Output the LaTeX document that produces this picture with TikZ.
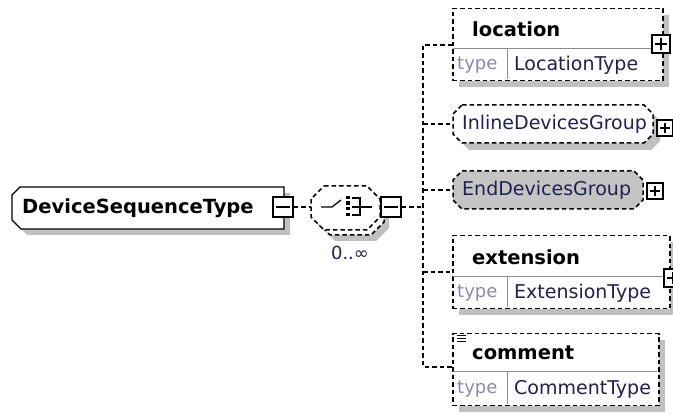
\documentclass[tikz,border=0pt]{standalone}
\usepackage{fontspec}
\setmainfont{DejaVu Sans}
\definecolor{shd}{HTML}{C0C0C0}
\definecolor{navy}{HTML}{202050}
\definecolor{tgray}{HTML}{8A8AA8}
\definecolor{grpfill}{HTML}{C4C4C4}
\definecolor{divg}{HTML}{8C8C8C}
% octagon path: x1 y1 x2 y2 chamfer
\newcommand\octpath[5]{({#1+#5},#2) -- ({#3-#5},#2) -- (#3,{#2+#5}) -- (#3,{#4-#5}) -- ({#3-#5},#4) -- ({#1+#5},#4) -- (#1,{#4-#5}) -- (#1,{#2+#5}) -- cycle}
\tikzset{
  dsh/.style={dash pattern=on 4.5pt off 3pt, line width=1.5pt},
  conn/.style={dsh, draw=black},
  shadowfill/.style={fill=shd, draw=none},
  anch/.style={rectangle, inner sep=0pt, anchor=north west},
  elbox/.style={rectangle, draw, dsh, fill=white, inner sep=0pt, anchor=north west},
  pmbox/.style={rectangle, draw, solid, line width=1.3pt, fill=white, minimum size=#1, inner sep=0pt},
  minusbox/.style={pmbox=#1, path picture={
      \draw[line width=1.3pt] ([xshift=3pt]path picture bounding box.west) -- ([xshift=-3pt]path picture bounding box.east);}},
  plusbox/.style={pmbox=#1, path picture={
      \draw[line width=1.3pt] ([xshift=3pt]path picture bounding box.west) -- ([xshift=-3pt]path picture bounding box.east);
      \draw[line width=1.3pt] ([yshift=-3pt]path picture bounding box.north) -- ([yshift=3pt]path picture bounding box.south);}},
  ttl/.style={font=\fontsize{19.5}{22}\selectfont\bfseries, text=black, anchor=west, inner sep=0pt},
  nm/.style={font=\fontsize{19}{22}\selectfont, text=navy, anchor=west, inner sep=0pt},
  tlab/.style={font=\fontsize{18}{22}\selectfont, text=tgray, anchor=west, inner sep=0pt},
  divl/.style={draw=divg, line width=1pt, solid},
}
\begin{document}
\begin{tikzpicture}[x=1pt,y=-1pt]
\clip (0,0) rectangle (673,414);
\fill[white] (0,0) rectangle (673,414);

% complex type
\fill[shadowfill] (26,193) -- (290,193) -- (290,235) -- (27,235) -- (18,226) -- (18,201) -- cycle;
\draw[line width=1.3pt, fill=white] (20,187) -- (284,187) -- (284,229) -- (21,229) -- (12,220) -- (12,195) -- cycle;
\node[anch, minimum width=272pt, minimum height=42pt] (dst) at (12,187) {};
\node[ttl] (dstl) at (22,208) {DeviceSequenceType};
\node[minusbox=20pt] (dstm) at (283,207) {};

% sequence compositor (stacked for multiple occurrences)
\fill[shadowfill] \octpath{322}{197}{389}{241}{13};
\draw[dsh, fill=white] \octpath{317}{191}{384}{235}{13};
\draw[dsh, fill=white] \octpath{311}{186}{380}{230}{13};
\node[anch, minimum width=69pt, minimum height=44pt] (seq) at (311,186) {};
\draw[line width=1.3pt] (321,207) -- (332,207) -- (341,200);
\fill (346,196) rectangle (349.5,199.5);
\fill (346,201.5) rectangle (349.5,205);
\fill (346,207) rectangle (349.5,210.5);
\fill (346,213) rectangle (349.5,216.5);
\draw[line width=1.3pt] (352,198) -- (360,198) -- (360,215) -- (352,215);
\draw[line width=1.3pt] (352,207) -- (372,207);
\node[minusbox=20pt] (seqm) at (391,207) {};
\node[font=\fontsize{18}{22}\selectfont, text=navy, inner sep=0pt] (occ) at (350,253) {0..∞};

\draw[conn] (dstm.east) -- (dstm.east -| seq.west);

% location
\fill[shadowfill] (459,15) rectangle (669,87);
\node[elbox, minimum width=210pt, minimum height=72pt] (loc) at (452,8) {};
\draw[divl] (453,49) -- (661,49);
\draw[divl] (507,49) -- (507,79);
\node[ttl] (locl) at (472,29) {location};
\node[tlab] (loct) at (457,65) {type};
\node[nm] (locn) at (514,65) {LocationType};
\node[plusbox=18pt] (locp) at (661,44) {};

% InlineDevicesGroup
\fill[shadowfill] \octpath{460}{112}{660}{150}{9};
\draw[dsh, fill=white] \octpath{453}{105}{653}{143}{9};
\node[anch, minimum width=200pt, minimum height=38pt] (inl) at (453,105) {};
\node[nm] (inll) at (462,124) {InlineDevicesGroup};
\node[plusbox=16pt] (inlp) at (665,128) {};

% EndDevicesGroup
\draw[dsh, fill=grpfill] \octpath{453}{171}{643}{209}{9};
\node[anch, minimum width=190pt, minimum height=38pt] (end) at (453,171) {};
\node[nm] (endl) at (462,190) {EndDevicesGroup};
\node[plusbox=16pt] (endp) at (655,191) {};

% extension
\fill[shadowfill] (459,242) rectangle (676,315);
\node[elbox, minimum width=217pt, minimum height=73pt] (ext) at (452,235) {};
\draw[divl] (453,277) -- (668,277);
\draw[divl] (507,277) -- (507,307);
\node[ttl] (extl) at (472,257) {extension};
\node[tlab] (extt) at (457,293) {type};
\node[nm] (extn) at (514,293) {ExtensionType};
\node[plusbox=18pt] (extp) at (673,278) {};

% comment
\fill[shadowfill] (459,340) rectangle (665,412);
\node[elbox, minimum width=206pt, minimum height=72pt] (com) at (452,333) {};
\draw[divl] (453,372) -- (657,372);
\draw[divl] (507,372) -- (507,404);
\draw[line width=1pt] (457,336) -- (466,336) (457,339) -- (466,339) (457,342) -- (466,342);
\node[ttl] (coml) at (472,353) {comment};
\node[tlab] (comt) at (457,389) {type};
\node[nm] (comn) at (514,389) {CommentType};

% bus and branches
\coordinate (bt) at (423,45);
\coordinate (bb) at (423,367);
\coordinate (bx) at (423,272);
\draw[conn] (seqm.east) -- (seqm.east -| bt);
\draw[conn] (loc.west |- bt) -- (bt) -- (bb) -- (com.west |- bb);
\draw[conn] (bt |- inl.west) -- (inl.west);
\draw[conn] (bt |- end.west) -- (end.west);
\draw[conn] (bx) -- (bx -| ext.west);
\end{tikzpicture}
\end{document}
